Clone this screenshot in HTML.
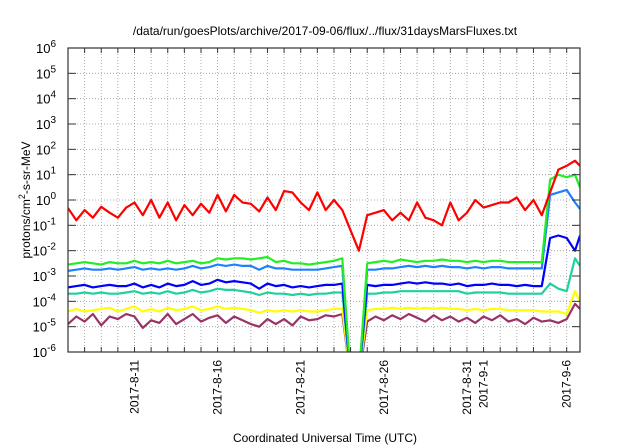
<!DOCTYPE html>
<html><head><meta charset="utf-8"><style>
html,body{margin:0;padding:0;background:#fff;}
svg{display:block;font-family:"Liberation Sans",Arial,sans-serif;}
</style></head><body>
<svg id="chart" width="640" height="448" viewBox="0 0 640 448" xmlns="http://www.w3.org/2000/svg">
<text x="325" y="35" font-size="12" text-anchor="middle">/data/run/goesPlots/archive/2017-09-06/flux/../flux/31daysMarsFluxes.txt</text>
<text x="325" y="442" font-size="12" text-anchor="middle">Coordinated Universal Time (UTC)</text>
<text transform="translate(30,200) rotate(-90)" font-size="12" text-anchor="middle">protons/cm<tspan dy="-5" font-size="9">2</tspan><tspan dy="5">-s-sr-MeV</tspan></text>
<defs><clipPath id="clip"><rect x="68" y="48" width="512" height="304"/></clipPath></defs>
<g id="grid"></g>
<g id="series" clip-path="url(#clip)"></g>
<g id="axes"></g>
</svg>
<script>
const days=[];for(let i=0;i<62;i++)days.push(i*0.5);days.push(30.8);
const xTickLabels=["2017-8-11","2017-8-16","2017-8-21","2017-8-26","2017-8-31","2017-9-1","2017-9-6"];
const xTickDays=[4,9,14,19,24,25,30];
const yExponents=[-6,-5,-4,-3,-2,-1,0,1,2,3,4,5,6];
const redLog=[-0.32,-0.8,-0.4,-0.7,-0.27,-0.5,-0.7,-0.3,-0.1,-0.6,
0,-0.7,-0.1,-0.8,-0.2,-0.6,-0.15,-0.5,0.2,-0.45,
0.2,-0.1,-0.15,-0.45,0.1,-0.4,0.35,0.3,-0.1,-0.4,
0.3,-0.4,0,-0.4,-1.2,-2.0,-0.6,-0.5,-0.4,-0.8,
-0.5,-0.8,-0.1,-0.7,-0.8,-1.0,-0.1,-0.8,-0.5,0,
-0.3,-0.2,-0.1,-0.1,0.1,-0.4,0,-0.6,0.3,1.2,
1.35,1.55,1.35];
const greenLog=[-2.55,-2.5,-2.45,-2.5,-2.55,-2.45,-2.5,-2.5,-2.4,-2.5,
-2.45,-2.5,-2.4,-2.5,-2.45,-2.4,-2.5,-2.45,-2.3,-2.35,
-2.3,-2.3,-2.35,-2.3,-2.25,-2.45,-2.4,-2.5,-2.5,-2.55,
-2.5,-2.45,-2.4,-2.3,-7,-7,-2.5,-2.45,-2.4,-2.45,
-2.35,-2.4,-2.45,-2.4,-2.4,-2.35,-2.4,-2.4,-2.45,-2.4,
-2.45,-2.4,-2.4,-2.45,-2.45,-2.45,-2.45,-2.45,0.8,1.0,
0.9,1.0,0.5];
const lightBlueLog=[-2.8,-2.75,-2.7,-2.75,-2.75,-2.7,-2.75,-2.7,-2.65,-2.75,
-2.7,-2.75,-2.7,-2.75,-2.7,-2.6,-2.7,-2.65,-2.55,-2.6,
-2.55,-2.6,-2.6,-2.75,-2.6,-2.7,-2.7,-2.75,-2.75,-2.75,
-2.75,-2.7,-2.65,-2.6,-7,-7,-2.75,-2.75,-2.7,-2.7,
-2.65,-2.6,-2.65,-2.6,-2.65,-2.6,-2.65,-2.65,-2.7,-2.65,
-2.7,-2.65,-2.65,-2.7,-2.7,-2.7,-2.7,-2.7,0.2,0.3,
0.4,-0.1,-0.35];
const blueLog=[-3.45,-3.4,-3.35,-3.45,-3.4,-3.35,-3.4,-3.4,-3.3,-3.45,
-3.35,-3.45,-3.3,-3.4,-3.35,-3.2,-3.35,-3.3,-3.15,-3.25,
-3.2,-3.25,-3.3,-3.5,-3.3,-3.4,-3.35,-3.45,-3.4,-3.45,
-3.4,-3.35,-3.35,-3.3,-7,-7,-3.35,-3.4,-3.35,-3.35,
-3.3,-3.25,-3.3,-3.25,-3.3,-3.3,-3.35,-3.3,-3.4,-3.35,
-3.35,-3.3,-3.35,-3.35,-3.4,-3.35,-3.4,-3.4,-1.5,-1.4,
-1.5,-2.0,-1.4];
const tealLog=[-3.7,-3.7,-3.65,-3.7,-3.65,-3.7,-3.7,-3.65,-3.6,-3.7,
-3.65,-3.7,-3.6,-3.7,-3.65,-3.55,-3.65,-3.6,-3.5,-3.55,
-3.55,-3.6,-3.65,-3.75,-3.65,-3.7,-3.7,-3.75,-3.7,-3.75,
-3.7,-3.7,-3.65,-3.65,-7,-7,-3.7,-3.7,-3.65,-3.65,
-3.6,-3.6,-3.6,-3.6,-3.6,-3.6,-3.6,-3.6,-3.7,-3.65,
-3.65,-3.65,-3.65,-3.7,-3.7,-3.7,-3.7,-3.7,-3.3,-3.5,
-3.6,-2.3,-2.6];
const yellowLog=[-4.4,-4.3,-4.4,-4.35,-4.3,-4.25,-4.4,-4.3,-4.2,-4.4,
-4.3,-4.4,-4.25,-4.35,-4.3,-4.2,-4.35,-4.3,-4.2,-4.3,
-4.25,-4.3,-4.35,-4.45,-4.35,-4.4,-4.35,-4.4,-4.35,-4.4,
-4.4,-4.35,-4.3,-4.3,-7,-7,-4.35,-4.3,-4.3,-4.25,
-4.3,-4.25,-4.3,-4.25,-4.3,-4.25,-4.3,-4.3,-4.35,-4.3,
-4.35,-4.3,-4.3,-4.35,-4.35,-4.35,-4.35,-4.4,-4.4,-4.4,
-4.5,-3.6,-4.0];
const maroonLog=[-4.9,-4.6,-4.8,-4.5,-4.95,-4.6,-4.7,-4.5,-4.6,-5.05,
-4.75,-4.85,-4.5,-4.9,-4.7,-4.5,-4.8,-4.65,-4.55,-4.85,
-4.6,-4.75,-4.9,-5.0,-4.7,-4.9,-4.7,-4.95,-4.6,-4.75,
-4.7,-4.55,-4.6,-4.5,-7,-7,-4.8,-4.6,-4.75,-4.55,
-4.7,-4.5,-4.65,-4.8,-4.55,-4.75,-4.6,-4.8,-4.65,-4.85,
-4.6,-4.75,-4.55,-4.8,-4.7,-4.9,-4.65,-4.8,-4.75,-4.85,
-4.7,-4.1,-4.3];
const L=68,R=580,T=48,B=352,dayMax=30.8;
const xs=d=>L+d*(R-L)/dayMax;
const ys=e=>B-(e+6)*(B-T)/12;
const NS="http://www.w3.org/2000/svg";
function mk(tag,attrs,parent){const el=document.createElementNS(NS,tag);for(const k in attrs)el.setAttribute(k,attrs[k]);parent.appendChild(el);return el;}
const grid=document.getElementById('grid'),axes=document.getElementById('axes'),ser=document.getElementById('series');
for(let d=1;d<=30;d++){
  const l=mk('line',{x1:xs(d),x2:xs(d),y1:T,y2:B,stroke:'#999','stroke-width':0.8,'stroke-dasharray':'1,2'},grid);
  
  
  const t1=mk('line',{x1:xs(d),x2:xs(d),y1:B,y2:B-5,stroke:'#333','stroke-width':1},axes);
  
  
  const t2=mk('line',{x1:xs(d),x2:xs(d),y1:T,y2:T+5,stroke:'#333','stroke-width':1},axes);
  
  
}
yExponents.forEach(e=>{
  const y=ys(e);
  if(e>-6&&e<6){
    const g=mk('line',{x1:L,x2:R,y1:y,y2:y,stroke:'#999','stroke-width':0.8,'stroke-dasharray':'1,2'},grid);
    
    
  }
  const a=mk('line',{x1:L,x2:L+8,y1:y,y2:y,stroke:'#333'},axes);
  
  
  const b=mk('line',{x1:R,x2:R-8,y1:y,y2:y,stroke:'#333'},axes);
  
  
  const t=mk('text',{x:56,y:y+5,'font-size':13,'text-anchor':'end'},axes);
  
  
  t.textContent='10';
  const s=mk('tspan',{dy:-6,'font-size':10},t);s.textContent=String(e);
});
xTickDays.forEach((d,i)=>{
  const x=xs(d);
  const t=mk('text',{transform:`translate(${x+4},${B+8}) rotate(-90)`,'font-size':12,'text-anchor':'end'},axes);
  
  
  t.textContent=xTickLabels[i];
});
const fr=mk('rect',{x:L,y:T,width:R-L,height:B-T,fill:'none',stroke:'#333','stroke-width':1.2},axes);


const seriesList=[[maroonLog,'#993366','series-maroon'],[yellowLog,'#ffff00','series-yellow'],[tealLog,'#20d0a0','series-teal'],[blueLog,'#0000ff','series-blue'],[lightBlueLog,'#2080ff','series-light-blue'],[greenLog,'#22ee22','series-green'],[redLog,'#ff0000','series-red']];
seriesList.forEach(([vals,col,name])=>{
  const pts=vals.map((v,i)=>xs(days[i]).toFixed(1)+','+ys(v).toFixed(1)).join(' ');
  const p=mk('polyline',{points:pts,fill:'none',stroke:col,'stroke-width':2.2,'stroke-linejoin':'round'},ser);
  
  
});
</script>
</body></html>
